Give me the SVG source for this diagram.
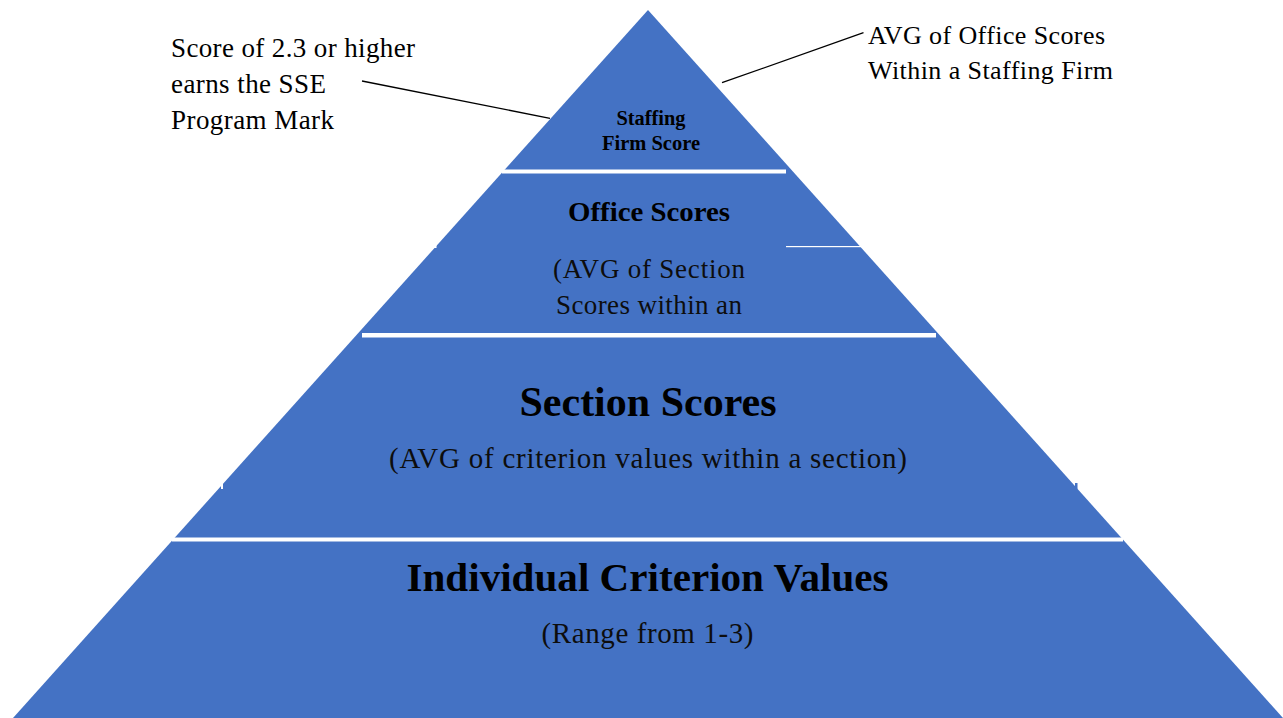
<svg xmlns="http://www.w3.org/2000/svg" width="1283" height="718" viewBox="0 0 1283 718">
  <style>
    .tier { fill: #4472C4; }
    .gap { fill: #FFFFFF; }
    .hd { font-family: "Liberation Serif", "Times New Roman", serif; font-weight: bold; fill: #000000; text-anchor: middle; }
    .sub { font-family: "Liberation Serif", "Times New Roman", serif; fill: #0d0d0d; text-anchor: middle; }
    .note { font-family: "Liberation Serif", "Times New Roman", serif; fill: #000000; }
    .leader { stroke: #000000; stroke-width: 1.3; fill: none; }
  </style>
  <rect width="1283" height="718" fill="#FFFFFF"/>

  <!-- pyramid body -->
  <g id="pyramid">
    <polygon class="tier" points="648,10 1283,718 13,718"/>
    <!-- tier separators -->
    <rect class="gap" x="502" y="169.5" width="284" height="4"/>
    <rect class="gap" x="362" y="333" width="574" height="4.5"/>
    <rect class="gap" x="172" y="537.5" width="951" height="4"/>
    <!-- small edge marks -->
    <rect class="gap" x="786" y="246" width="77" height="1.2"/>
    <rect class="gap" x="433" y="244" width="3.5" height="4"/>
    <rect class="gap" x="221" y="483" width="2" height="6"/>
    <rect class="tier" x="1075" y="483" width="2.5" height="6"/>
  </g>

  <!-- top tier -->
  <g id="tier-firm">
    <text class="hd" x="651" y="125" font-size="20" textLength="69" lengthAdjust="spacingAndGlyphs">Staffing</text>
    <text class="hd" x="651" y="150" font-size="20" textLength="98" lengthAdjust="spacingAndGlyphs">Firm Score</text>
  </g>

  <!-- second tier -->
  <g id="tier-office">
    <text class="hd" x="649" y="221" font-size="28" textLength="162" lengthAdjust="spacingAndGlyphs">Office Scores</text>
    <text class="sub" x="649" y="278" font-size="27" textLength="192" lengthAdjust="spacing">(AVG of Section</text>
    <text class="sub" x="649" y="314" font-size="27" textLength="186" lengthAdjust="spacing">Scores within an</text>
  </g>

  <!-- third tier -->
  <g id="tier-section">
    <text class="hd" x="648" y="415.5" font-size="42" textLength="257" lengthAdjust="spacingAndGlyphs">Section Scores</text>
    <text class="sub" x="648" y="467.5" font-size="29" textLength="518" lengthAdjust="spacing">(AVG of criterion values within a section)</text>
  </g>

  <!-- base tier -->
  <g id="tier-criterion">
    <text class="hd" x="647.5" y="590.5" font-size="41" textLength="482" lengthAdjust="spacingAndGlyphs">Individual Criterion Values</text>
    <text class="sub" x="647.5" y="642.5" font-size="29" textLength="212" lengthAdjust="spacing">(Range from 1-3)</text>
  </g>

  <!-- side notes -->
  <g id="note-mark">
    <text class="note" x="171" y="56.5" font-size="27" textLength="244" lengthAdjust="spacing">Score of 2.3 or higher</text>
    <text class="note" x="171" y="92.5" font-size="27" textLength="155" lengthAdjust="spacing">earns the SSE</text>
    <text class="note" x="171" y="128.5" font-size="27" textLength="163" lengthAdjust="spacing">Program Mark</text>
  </g>
  <g id="note-firm">
    <text class="note" x="868" y="44" font-size="26" textLength="237" lengthAdjust="spacing">AVG of Office Scores</text>
    <text class="note" x="868" y="78.5" font-size="26" textLength="245" lengthAdjust="spacing">Within a Staffing Firm</text>
  </g>

  <!-- leader lines -->
  <g id="connectors">
    <line class="leader" x1="362" y1="81" x2="550" y2="118.3"/>
    <line class="leader" x1="722" y1="82.7" x2="863.5" y2="32.7"/>
  </g>
</svg>
